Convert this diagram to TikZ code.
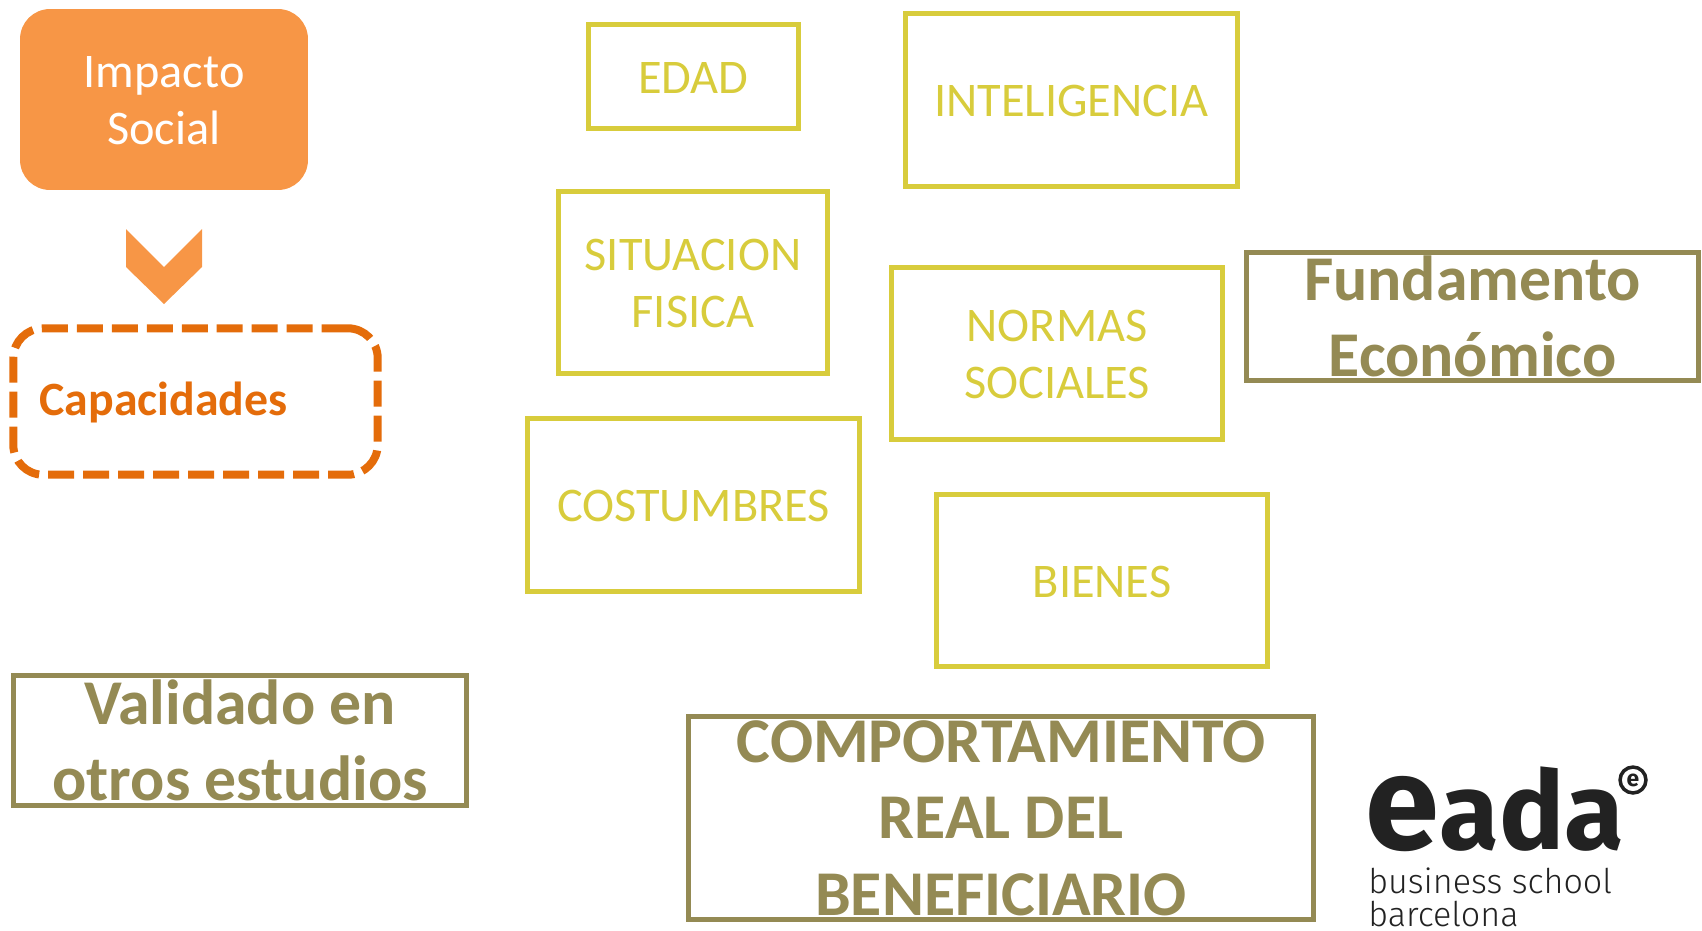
\documentclass[tikz,border=0pt]{standalone}
\usepackage{fontspec}
\setmainfont{Carlito}
\newfontfamily\logofont{Fira Sans}
\newfontfamily\logolight{Fira Sans Light}
\usetikzlibrary{positioning}
\definecolor{softorange}{HTML}{F79646}
\definecolor{darkorange}{HTML}{E46C0A}
\definecolor{mustard}{HTML}{D8CC3C}
\definecolor{olive}{HTML}{948A54}
\definecolor{logoink}{HTML}{222222}

\begin{document}
\begin{tikzpicture}[x=0.02cm,y=-0.02cm,
 yellow box/.style={draw=mustard,line width=0.1cm,inner sep=0pt},
 yellow text/.style={text=mustard,align=center,inner sep=0pt,
   font=\fontsize{27.5}{32.4}\selectfont},
 olive box/.style={draw=olive,line width=0.1cm,inner sep=0pt},
 olive text/.style={text=olive,align=center,inner sep=0pt,
   font=\fontsize{36.3}{43.6}\selectfont\bfseries}]
  \useasboundingbox (0,0) rectangle (1702,930);

  % left column
  \node[fill=softorange,rounded corners=0.6cm,minimum width=5.76cm,minimum height=3.62cm] (impact) at (164,99.5) {};
  \node[yellow text,text=white] (impact text) at ([yshift=-0.6pt]impact) {Impacto\\Social};
  \fill[softorange] (126,229) -- (164,267) -- (202,229) -- (202,267) -- (164,304) -- (126,267) -- cycle;
  \node[draw=darkorange,line width=0.16cm,dash pattern=on 0.52cm off 0.18cm,rounded corners=0.6cm,
    minimum width=7.29cm,minimum height=2.93cm] (capbox) at (195.5,401.5) {};
  \node[text=darkorange,font=\fontsize{27.2}{32}\selectfont\bfseries,inner sep=0pt] (cap) at (163.5,402) {Capacidades};

  % yellow boxes
  \foreach \n/\x/\y/\w/\h/\t in {edad/693.5/76.5/213/107/EDAD, intel/1071.5/100/335/176/INTELIGENCIA,
    situ/693/282.5/272/185/{SITUACION\\FISICA}, normas/1057/353.5/334/175/{NORMAS\\SOCIALES},
    cost/693.5/505/335/176/COSTUMBRES, bienes/1102/580.5/334/175/BIENES} {
    \node[yellow box,minimum width=\w*0.02cm-0.05cm,minimum height=\h*0.02cm-0.05cm] (\n) at (\x,\y) {};
    \node[yellow text] (\n text) at ([yshift=-0.6pt]\n) {\t};}

  % olive boxes, text is taller than they are
  \foreach \n/\x/\y/\w/\h/\t in {fund/1472.5/316.5/455/131/{Fundamento\\Económico},
    valid/240/740.5/456/133/{Validado en\\otros estudios},
    real/1001/818/628/206/{COMPORTAMIENTO\\REAL DEL\\BENEFICIARIO}} {
    \node[olive box,minimum width=\w*0.02cm-0.05cm,minimum height=\h*0.02cm-0.05cm] (\n) at (\x,\y) {};
    \node[olive text] (\n text) at (\n) {\t};}

  % logo
  \node[anchor=base west,inner sep=0pt,text=logoink,font=\logofont\fontsize{76}{76}\selectfont\bfseries] (logoe) at (1365,849) {e};
  \node[anchor=base west,inner sep=0pt,text=logoink,font=\logofont\fontsize{62}{62}\selectfont\bfseries] (logoada) at (logoe.base east) {ada};
  \node[draw=logoink,circle,line width=0.07cm,inner sep=1.6pt,text=logoink,font=\logofont\fontsize{13}{13}\selectfont\bfseries] (logoreg) at (1633,780) {e};
  \node[anchor=base west,inner sep=0pt,text=logoink,font=\logolight\fontsize{19.4}{20}\selectfont] (logoline) at (1368,893) {business school};
  \node[anchor=base west,inner sep=0pt,text=logoink,font=\logolight\fontsize{19.4}{20}\selectfont] (logocity) at (1368,926) {barcelona};
\end{tikzpicture}
\end{document}
